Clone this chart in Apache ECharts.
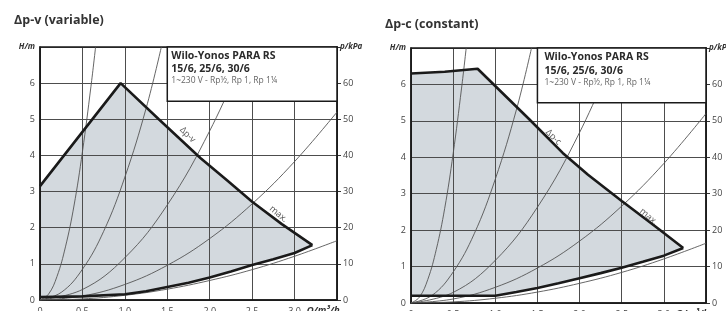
<!DOCTYPE html>
<html><head><meta charset="utf-8">
<script src="https://cdn.jsdelivr.net/npm/echarts@6/dist/echarts.min.js"></script>
<style>html,body{margin:0;padding:0;background:#fff}#c{width:726px;height:311px}</style>
</head><body><div id="c"></div>
<script>
// ---------- data ----------
const titles = ['Δp-v (variable)', 'Δp-c (constant)'];
const boxLines = ['Wilo-Yonos PARA RS', '15/6, 25/6, 30/6', '1~230 V - Rp½, Rp 1, Rp 1¼'];
const xTickLabels = ['0', '0.5', '1.0', '1.5', '2.0', '2.5', '3.0'];
const hTickLabels = ['0', '1', '2', '3', '4', '5', '6'];
const pTickLabels = ['0', '10', '20', '30', '40', '50', '60'];
const xName = 'Q/m³/h';
const hName = 'H/m';
const pName = 'p/kPa';

// Δp-v operating field (Q in m³/h, H in m)
const vTop = [[0,3.15],[0.95,6.0],[1.4,5.0],[1.89,3.93],[2.2,3.32],[2.5,2.72],[2.85,2.1],[3.21,1.52]];
const vBottom = [[0,0.08],[0.5,0.1],[1.0,0.16],[1.25,0.24],[1.5,0.36],[1.75,0.48],[2.0,0.62],[2.25,0.79],[2.5,0.97],[2.75,1.13],[3.0,1.3],[3.21,1.52]];
// Δp-c operating field
const cTop = [[0,6.3],[0.4,6.35],[0.79,6.43],[1.4,5.05],[1.8,4.12],[2.1,3.52],[2.5,2.8],[2.9,2.1],[3.23,1.51]];
const cBottom = [[0,0.2],[1.0,0.2],[1.25,0.3],[1.5,0.41],[1.75,0.54],[2.0,0.68],[2.25,0.82],[2.5,0.97],[2.75,1.13],[3.0,1.3],[3.23,1.51]];

// system curves (same on both charts)
const sys1 = [[0,0],[0.1,0.16],[0.2,0.65],[0.3,1.47],[0.4,2.6],[0.5,4.1],[0.6,5.9],[0.655,7]];
const sys2 = [[0,0],[0.25,0.21],[0.5,0.85],[0.75,1.9],[1.0,3.4],[1.25,5.3],[1.43,7]];
const sys3 = [[0,0],[0.5,0.29],[1.0,1.17],[1.5,2.63],[2.0,4.68],[2.45,7]];
const sys4 = [[0,0],[0.5,0.11],[1.0,0.43],[1.5,0.96],[2.0,1.7],[2.5,2.66],[3.0,3.83],[3.5,5.2]];
const sys5 = [[0,0],[0.5,0.03],[1.0,0.13],[1.5,0.3],[2.0,0.54],[2.5,0.84],[3.0,1.21],[3.5,1.64]];

// curve annotations: [text, Q, H]
const vNotes = [['Δp-v', 1.74, 4.57], ['max.', 2.81, 2.38]];
const cNotes = [['Δp-c', 1.69, 4.55], ['max.', 2.82, 2.37]];
// legend box extent in data units [Q0, H0, Q1, H1]
const boxExtent = [1.5, 7, 3.5, 5.5];

// ---------- chart ----------
const FONT = 'Open Sans';
const chart = echarts.init(document.getElementById('c'), null, {renderer: 'canvas'});

function xAxisOf(gi) {
  return {
    gridIndex: gi, type: 'value', min: 0, max: 3.5, interval: 0.5, z: 3,
    axisLine: {show: true, lineStyle: {color: '#1a1a1a', width: 1.5}},
    axisTick: {show: false},
    splitLine: {show: true, lineStyle: {color: '#4d4d4d', width: 1}},
    axisLabel: {
      margin: 7, fontSize: 9, color: '#444', fontFamily: FONT,
      formatter: v => { const i = Math.round(v / 0.5); return i < xTickLabels.length ? xTickLabels[i] : ''; }
    },
    name: xName, nameLocation: 'end', nameGap: -33,
    nameTextStyle: {fontSize: 9.5, fontStyle: 'italic', fontWeight: 'bold', color: '#333',
      fontFamily: FONT, align: 'left', verticalAlign: 'top', padding: [5, 0, 0, 0]}
  };
}
function hAxisOf(gi) {
  return {
    gridIndex: gi, type: 'value', min: 0, max: 7, interval: 1, position: 'left', z: 3,
    axisLine: {show: true, lineStyle: {color: '#1a1a1a', width: 1.5}},
    axisTick: {show: false},
    splitLine: {show: true, lineStyle: {color: '#4d4d4d', width: 1}},
    axisLabel: {margin: 5, fontSize: 9, color: '#444', fontFamily: FONT,
      formatter: v => hTickLabels[Math.round(v)] || ''},
    name: hName, nameLocation: 'end', nameGap: 0,
    nameTextStyle: {fontSize: 8, fontStyle: 'italic', fontWeight: 'bold', color: '#333',
      fontFamily: FONT, align: 'right', verticalAlign: 'middle', padding: [0, 5, 0, 0]}
  };
}
function pAxisOf(gi) {
  return {
    gridIndex: gi, type: 'value', min: 0, max: 70, interval: 10, position: 'right', z: 3,
    axisLine: {show: true, lineStyle: {color: '#1a1a1a', width: 1.5}},
    axisTick: {show: true, inside: false, length: 4, lineStyle: {color: '#333'}},
    splitLine: {show: false},
    axisLabel: {margin: 6, fontSize: 9, color: '#444', fontFamily: FONT,
      formatter: v => pTickLabels[Math.round(v / 10)] || ''},
    name: pName, nameLocation: 'end', nameGap: 0,
    nameTextStyle: {fontSize: 8, fontStyle: 'italic', fontWeight: 'bold', color: '#333',
      fontFamily: FONT, align: 'left', verticalAlign: 'middle', padding: [0, 0, 0, 3]}
  };
}

function fillSeries(gi, top, bottom) {
  const poly = [[0, bottom[0][1]]].concat(top, bottom.slice(0, -1).reverse());
  return {
    type: 'custom', xAxisIndex: gi, yAxisIndex: gi * 2, z: 2, silent: true,
    data: [0],
    renderItem: (params, api) => ({
      type: 'polygon',
      shape: {points: poly.map(p => api.coord(p))},
      style: {fill: '#d3d9de'}
    })
  };
}
function lineSeries(gi, data, opts) {
  return Object.assign({
    type: 'line', xAxisIndex: gi, yAxisIndex: gi * 2, data: data, showSymbol: false,
    symbol: 'none', silent: true, z: 5, clip: true,
    lineStyle: {color: '#555', width: 0.9}
  }, opts || {});
}
function noteSeries(gi, notes, rots) {
  return {
    type: 'scatter', xAxisIndex: gi, yAxisIndex: gi * 2, symbolSize: 0, z: 6, silent: true,
    data: notes.map((n, i) => ({value: [n[1], n[2]], name: n[0],
      label: {show: true, formatter: n[0], rotate: rots[i], position: 'inside',
        fontSize: 9, color: '#2a2a2a', fontFamily: FONT}}))
  };
}
function boxSeries(gi, dx, dy) {
  return {
    type: 'custom', xAxisIndex: gi, yAxisIndex: gi * 2, z: 10, silent: true, clip: false,
    data: [0],
    renderItem: (params, api) => {
      const a = api.coord([boxExtent[0], boxExtent[1]]);
      const b = api.coord([boxExtent[2], boxExtent[3]]);
      return {
        type: 'group',
        children: [
          {type: 'rect', shape: {x: a[0], y: a[1], width: b[0] - a[0], height: b[1] - a[1]},
            style: {fill: '#fff', stroke: '#1a1a1a', lineWidth: 1.5}},
          {type: 'text', x: a[0] + dx, y: a[1] + dy[0],
            style: {text: boxLines[0], fontSize: 10.5, fontWeight: 'bold', fill: '#2a2a2a', fontFamily: FONT, verticalAlign: 'middle'}},
          {type: 'text', x: a[0] + dx, y: a[1] + dy[1],
            style: {text: boxLines[1], fontSize: 10.5, fontWeight: 'bold', fill: '#2a2a2a', fontFamily: FONT, verticalAlign: 'middle'}},
          {type: 'text', x: a[0] + dx, y: a[1] + dy[2],
            style: {text: boxLines[2], fontSize: 8.5, fill: '#666', fontFamily: FONT, verticalAlign: 'middle'}}
        ]
      };
    }
  };
}

function seriesFor(gi, top, bottom, notes) {
  const thick = {lineStyle: {color: '#1a1a1a', width: 2.6}, z: 7};
  const thin = {smooth: 0.4};
  return [
    fillSeries(gi, top, bottom),
    lineSeries(gi, sys1, thin), lineSeries(gi, sys2, thin), lineSeries(gi, sys3, thin),
    lineSeries(gi, sys4, thin), lineSeries(gi, sys5, thin),
    lineSeries(gi, top, thick), lineSeries(gi, bottom, thick),
    noteSeries(gi, notes, [-45, -40])
  ];
}

const option = {
  backgroundColor: '#fff',
  animation: false,
  grid: [
    {left: 40, top: 47, right: 389, bottom: 11, outerBoundsMode: 'none', containLabel: false, show: true, borderColor: '#1a1a1a', borderWidth: 1.5, backgroundColor: 'transparent', z: 4},
    {left: 411, top: 48, right: 20, bottom: 8, outerBoundsMode: 'none', containLabel: false, show: true, borderColor: '#1a1a1a', borderWidth: 1.5, backgroundColor: 'transparent', z: 4}
  ],
  xAxis: [xAxisOf(0), xAxisOf(1)],
  yAxis: [hAxisOf(0), pAxisOf(0), hAxisOf(1), pAxisOf(1)],
  graphic: [
    {type: 'text', left: 14, top: 14, style: {text: titles[0], fontSize: 12.5, fontWeight: 'bold', fill: '#333', fontFamily: FONT}},
    {type: 'text', left: 385, top: 18, style: {text: titles[1], fontSize: 12.5, fontWeight: 'bold', fill: '#333', fontFamily: FONT}}
  ],
  series: [].concat(
    seriesFor(0, vTop, vBottom, vNotes),
    seriesFor(1, cTop, cBottom, cNotes),
    [boxSeries(0, 4, [9, 22, 34]), boxSeries(1, 7, [9, 23, 35])]
  )
};
chart.setOption(option);
</script>
</body></html>
